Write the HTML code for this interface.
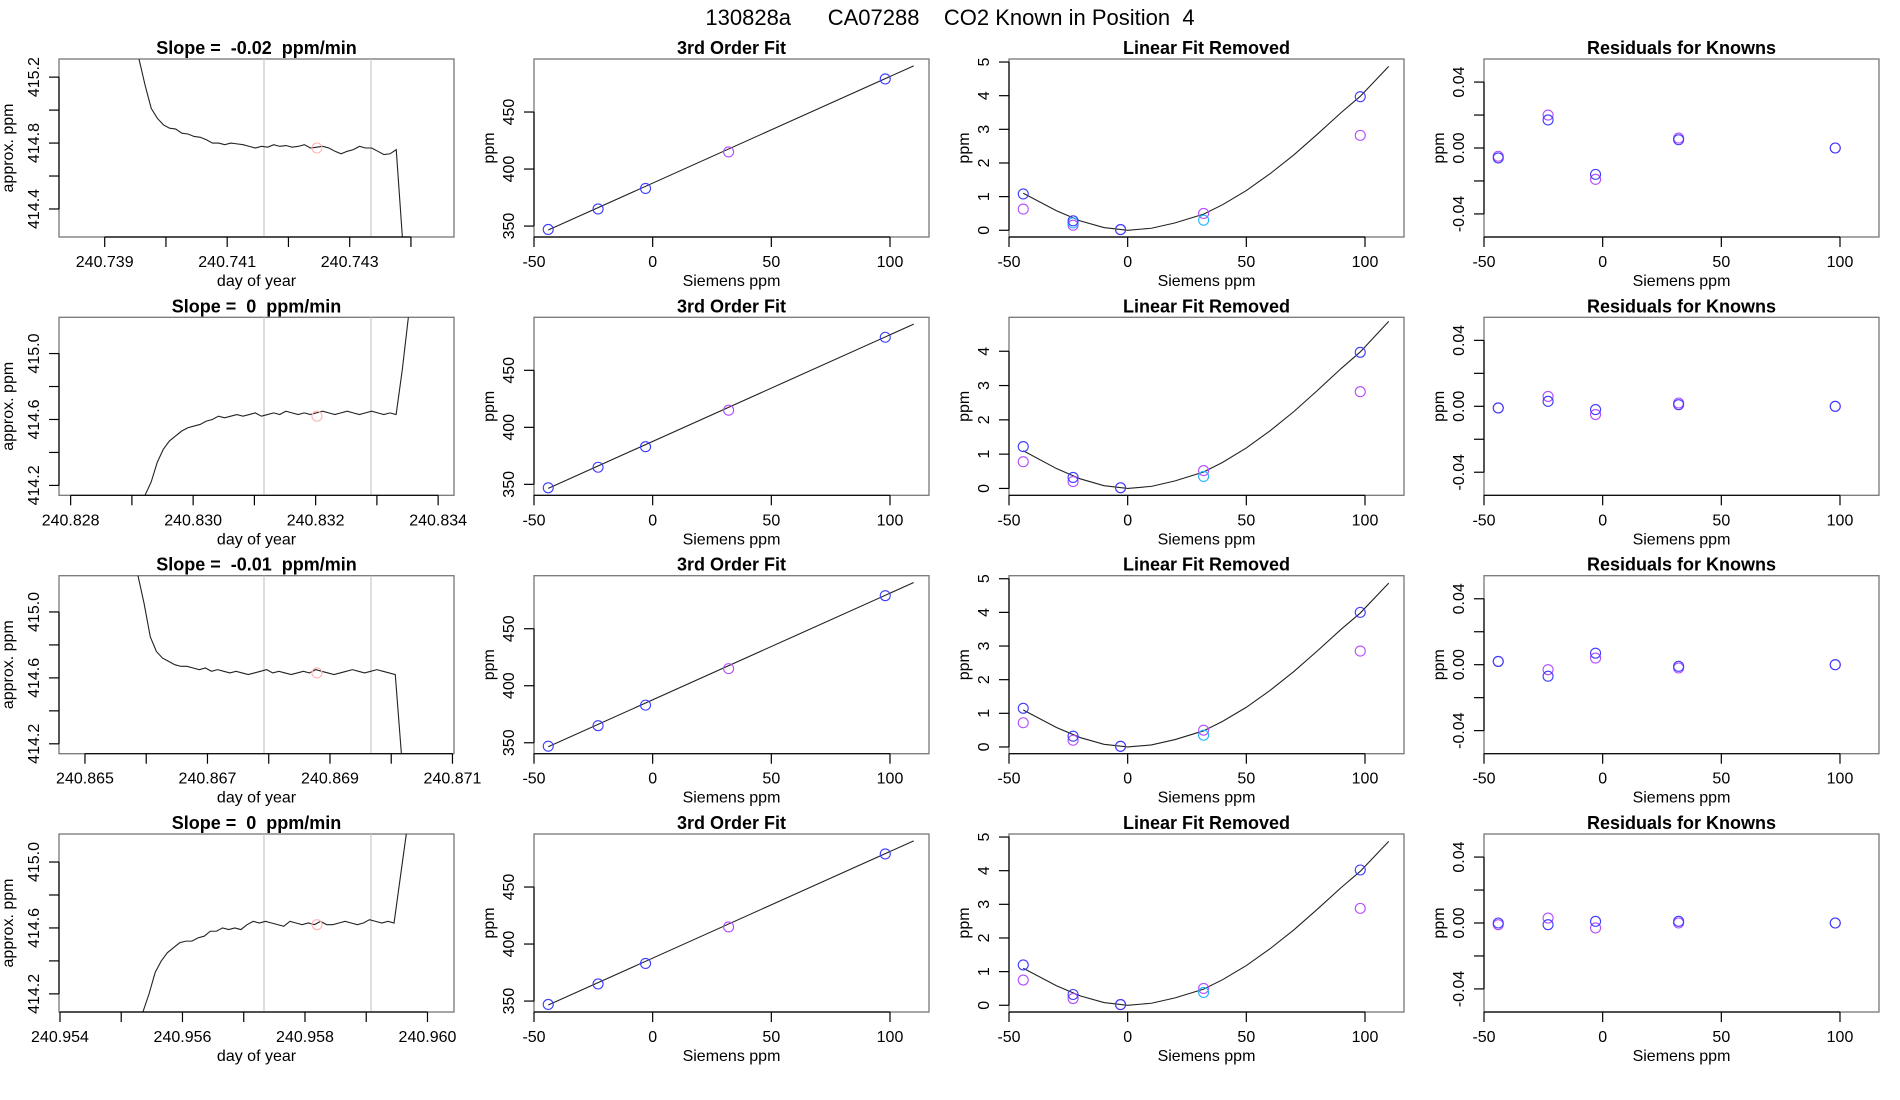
<!DOCTYPE html>
<html><head><meta charset="utf-8"><style>
html,body{margin:0;padding:0;background:#fff;}
svg{display:block;font-family:"Liberation Sans",sans-serif;}
text{white-space:pre;}
</style></head><body>
<svg id="fig" width="1900" height="1100" viewBox="0 0 1900 1100" xmlns="http://www.w3.org/2000/svg">
<text x="950" y="25" text-anchor="middle" font-size="22" xml:space="preserve">130828a      CA07288    CO2 Known in Position  4</text>
</svg>
<script>
// ---- column 1: time traces ----
const traceT0 = [240.739560, 240.829214, 240.865866, 240.955354];
const traceDt = 0.0001;
const trace1 = [415.40,415.15,415.01,414.95,414.91,414.89,414.885,414.86,414.855,414.84,414.835,414.82,414.80,414.80,414.79,414.80,414.795,414.79,414.78,414.77,414.78,414.775,414.79,414.78,414.785,414.775,414.78,414.79,414.77,414.775,414.78,414.77,414.75,414.735,414.75,414.76,414.78,414.77,414.77,414.75,414.73,414.735,414.76,413.8];
const trace2 = [414.05,414.22,414.34,414.42,414.47,414.50,414.53,414.55,414.56,414.57,414.59,414.60,414.62,414.61,414.62,414.63,414.62,414.63,414.64,414.62,414.63,414.64,414.63,414.65,414.64,414.63,414.64,414.63,414.64,414.65,414.64,414.63,414.64,414.65,414.64,414.63,414.64,414.65,414.64,414.63,414.64,414.63,414.90,415.6];
const trace3 = [415.35,415.05,414.85,414.76,414.72,414.70,414.68,414.67,414.67,414.66,414.65,414.66,414.64,414.65,414.64,414.63,414.64,414.63,414.62,414.63,414.64,414.65,414.63,414.64,414.63,414.62,414.63,414.64,414.63,414.65,414.64,414.63,414.62,414.63,414.64,414.65,414.64,414.63,414.64,414.65,414.64,414.63,414.62,413.9];
const trace4 = [414.00,414.20,414.33,414.40,414.45,414.48,414.51,414.52,414.52,414.54,414.55,414.58,414.58,414.60,414.59,414.60,414.59,414.62,414.64,414.63,414.64,414.63,414.62,414.61,414.64,414.63,414.62,414.63,414.62,414.64,414.62,414.62,414.63,414.64,414.63,414.62,414.63,414.65,414.64,414.63,414.64,414.63,414.9,415.6];
const traceSlopes = ["-0.02","0","-0.01","0"];
const vline1 = [240.741601, 240.831157, 240.867923, 240.957331];
const vline2 = [240.743348, 240.832904, 240.869670, 240.959078];
const markT = [240.742466, 240.832022, 240.868788, 240.958196];
const markV = [414.77, 414.62, 414.63, 414.62];
const timeXmin = [240.738254, 240.827810, 240.864576, 240.953984];
const timeYmin = [414.23, 414.14, 414.14, 414.09];
const timeYmax = [415.31, 415.22, 415.22, 415.17];
const timeTicks1 = [240.739,240.740,240.741,240.742,240.743,240.744];
const timeTicks2 = [240.828,240.829,240.830,240.831,240.832,240.833,240.834];
const timeTicks3 = [240.865,240.866,240.867,240.868,240.869,240.870,240.871];
const timeTicks4 = [240.954,240.955,240.956,240.957,240.958,240.959,240.960];
const timeLabels1 = ["240.739","","240.741","","240.743",""];
const timeLabels2 = ["240.828","","240.830","","240.832","","240.834"];
const timeLabels3 = ["240.865","","240.867","","240.869","","240.871"];
const timeLabels4 = ["240.954","","240.956","","240.958","","240.960"];
const ppmTicks1 = [414.4,414.6,414.8,415.0,415.2];
const ppmLabels1 = ["414.4","","414.8","","415.2"];
const ppmTicksB = [414.2,414.4,414.6,414.8,415.0];
const ppmLabelsB = ["414.2","","414.6","","415.0"];

// ---- shared siemens x values ----
const siemens = [-44, -23, -3, 32, 98];
const xTicks = [-50, 0, 50, 100];
const xTickLabels = ["-50","0","50","100"];

// ---- column 2: 3rd order fit ----
const fitBlue = [347, 365, 383, null, 479];
const fitViolet = [null, null, null, 415, null];
const fitLineX = [-44, 110];
const fitLineY = [346.5, 490.5];
const fitTicks = [350, 400, 450];

// ---- column 3: linear fit removed ----
const curveX = [-44,-30,-20,-10,0,10,20,32,40,50,60,70,80,90,98,110];
const curveY = [1.10,0.58,0.28,0.08,0.0,0.06,0.22,0.48,0.76,1.18,1.68,2.24,2.86,3.50,3.98,4.87];
const linBlue1 = [1.08,0.28,0.02,null,3.97];
const linViolet1 = [0.63,0.15,0.02,0.50,2.82];
const linCyan1 = [null,0.22,null,0.30,null];
const linBlue2 = [1.22,0.32,0.02,null,3.97];
const linViolet2 = [0.78,0.20,0.02,0.52,2.82];
const linCyan2 = [null,null,null,0.35,null];
const linBlue3 = [1.15,0.32,0.02,null,4.00];
const linViolet3 = [0.72,0.20,0.02,0.50,2.85];
const linCyan3 = [null,null,null,0.35,null];
const linBlue4 = [1.20,0.32,0.02,null,4.02];
const linViolet4 = [0.75,0.20,0.02,0.50,2.88];
const linCyan4 = [null,null,null,0.38,null];
const linYmax = [5.09, 4.99, 5.09, 5.09];
const linTicksA = [0,1,2,3,4,5];
const linTicksB = [0,1,2,3,4];

// ---- column 4: residuals ----
const resBlue1 = [-0.006,0.017,-0.016,0.005,0.0];
const resViolet1 = [-0.005,0.020,-0.019,0.006,0.0];
const resBlue2 = [-0.001,0.003,-0.002,0.001,0.0];
const resViolet2 = [-0.001,0.006,-0.005,0.002,0.0];
const resBlue3 = [0.002,-0.007,0.007,-0.001,0.0];
const resViolet3 = [0.002,-0.003,0.004,-0.002,0.0];
const resBlue4 = [0.0,-0.001,0.001,0.001,0.0];
const resViolet4 = [-0.001,0.003,-0.003,0.0,0.0];
const resTicks = [-0.04,-0.02,0,0.02,0.04];
const resLabels = ["-0.04","","0.00","","0.04"];

const NS = "http://www.w3.org/2000/svg";
const svg = document.getElementById("fig");
const colL = [59, 534, 1009, 1484];
const rowT = [59, 317.3, 575.7, 834];
const PW = 395, PH = 178;
const BLUE = "#3c3cff", VIOLET = "#b44cff", CYAN = "#22b4ff";

function mk(tag, attrs, parent) {
  const e = document.createElementNS(NS, tag);
  for (const k in attrs) e.setAttribute(k, attrs[k]);
  (parent || svg).appendChild(e);
  return e;
}
function txt(x, y, s, size, parent, extra) {
  const t = mk("text", Object.assign({x: x, y: y, "font-size": size, "text-anchor": "middle"}, extra || {}), parent);
  t.setAttributeNS("http://www.w3.org/XML/1998/namespace", "xml:space", "preserve");
  t.textContent = s;
  return t;
}

function panel(r, c, name, title, xmin, xmax, ymin, ymax) {
  const g = mk("g", {});
  
  
  const L = colL[c], T = rowT[r];
  const sx = v => L + (v - xmin) / (xmax - xmin) * PW;
  const sy = v => T + PH - (v - ymin) / (ymax - ymin) * PH;
  const t = txt(L + PW / 2, T - 5, title, 18, g, {"font-weight": "bold"});
  
  
  const box = mk("rect", {x: L, y: T, width: PW, height: PH, fill: "none", stroke: "#777", "stroke-width": 1.3}, g);
  
  
  return {g, L, T, sx, sy};
}
function xAxis(p, ticks, labels, title) {
  const y0 = p.T + PH;
  const ax = mk("g", {}, p.g);
  
  
  mk("line", {x1: p.sx(ticks[0]), x2: p.sx(ticks[ticks.length - 1]), y1: y0, y2: y0, stroke: "#000", "stroke-width": 1.2}, ax);
  ticks.forEach((v, i) => {
    const x = p.sx(v);
    mk("line", {x1: x, x2: x, y1: y0, y2: y0 + 10, stroke: "#000", "stroke-width": 1.2}, ax);
    if (labels[i]) {
      const lt = txt(x, y0 + 30, labels[i], 16, ax);
      
      
    }
  });
  const at = txt(p.L + PW / 2, y0 + 49, title, 16, ax);
  
  
}
function yAxis(p, ticks, labels, title, titleOff) {
  const x0 = p.L;
  const ax = mk("g", {}, p.g);
  
  
  mk("line", {x1: x0, x2: x0, y1: p.sy(ticks[0]), y2: p.sy(ticks[ticks.length - 1]), stroke: "#000", "stroke-width": 1.2}, ax);
  ticks.forEach((v, i) => {
    const y = p.sy(v);
    mk("line", {x1: x0, x2: x0 - 10, y1: y, y2: y, stroke: "#000", "stroke-width": 1.2}, ax);
    if (labels[i]) {
      const lt = txt(0, 0, labels[i], 16, ax, {transform: `translate(${x0 - 20},${y}) rotate(-90)`});
      
      
    }
  });
  const at = txt(0, 0, title, 16, ax, {transform: `translate(${x0 - titleOff},${p.T + PH / 2}) rotate(-90)`});
  
  
}
function circles(p, xs, ys, color, name) {
  xs.forEach((x, i) => {
    if (ys[i] === null) return;
    const c = mk("circle", {cx: p.sx(x), cy: p.sy(ys[i]), r: 5, fill: "none", stroke: color, "stroke-width": 1.1}, p.g);
    
    
  });
}
function polyline(p, xs, ys, color, name, clip) {
  const pts = xs.map((x, i) => {
    let y = p.sy(ys[i]);
    if (clip) y = Math.max(p.T, Math.min(p.T + PH, y));
    return p.sx(x).toFixed(2) + "," + y.toFixed(2);
  }).join(" ");
  const l = mk("polyline", {points: pts, fill: "none", stroke: color, "stroke-width": 1.1}, p.g);
  
  
}

const traces = [trace1, trace2, trace3, trace4];
const tTicks = [timeTicks1, timeTicks2, timeTicks3, timeTicks4];
const tLabels = [timeLabels1, timeLabels2, timeLabels3, timeLabels4];
const linB = [linBlue1, linBlue2, linBlue3, linBlue4];
const linV = [linViolet1, linViolet2, linViolet3, linViolet4];
const linC = [linCyan1, linCyan2, linCyan3, linCyan4];
const resB = [resBlue1, resBlue2, resBlue3, resBlue4];
const resV = [resViolet1, resViolet2, resViolet3, resViolet4];
const sxMax = -50 + PW / 2.3733;

for (let r = 0; r < 4; r++) {
  const xmin = timeXmin[r], xmax = xmin + PW / 61250;
  const p1 = panel(r, 0, "time-trace-panel-" + (r + 1), "Slope =  " + traceSlopes[r] + "  ppm/min", xmin, xmax, timeYmin[r], timeYmax[r]);
  [vline1[r], vline2[r]].forEach(v => {
    const l = mk("line", {x1: p1.sx(v), x2: p1.sx(v), y1: p1.T, y2: p1.T + PH, stroke: "#c8c8c8", "stroke-width": 1.2}, p1.g);
    
    
  });
  const tr = traces[r];
  const tx = tr.map((_, i) => traceT0[r] + i * traceDt);
  polyline(p1, tx, tr, "#222", "concentration-trace", true);
  circles(p1, [markT[r]], [markV[r]], "#ffb4b4", "mean-marker");
  xAxis(p1, tTicks[r], tLabels[r], "day of year");
  yAxis(p1, r === 0 ? ppmTicks1 : ppmTicksB, r === 0 ? ppmLabels1 : ppmLabelsB, "approx. ppm", 46);

  const p2 = panel(r, 1, "cubic-fit-panel-" + (r + 1), "3rd Order Fit", -50, sxMax, 340.4, 496.5);
  polyline(p2, fitLineX, fitLineY, "#222", "fit-line", false);
  circles(p2, siemens, fitBlue, BLUE, "known-point");
  circles(p2, siemens, fitViolet, VIOLET, "known-point-alt");
  xAxis(p2, xTicks, xTickLabels, "Siemens ppm");
  yAxis(p2, fitTicks, fitTicks.map(String), "ppm", 40);

  const p3 = panel(r, 2, "linear-removed-panel-" + (r + 1), "Linear Fit Removed", -50, sxMax, -0.2, linYmax[r]);
  polyline(p3, curveX, curveY, "#222", "curvature-line", false);
  circles(p3, siemens, linV[r], VIOLET, "residual-point-violet");
  circles(p3, siemens, linC[r], CYAN, "residual-point-cyan");
  circles(p3, siemens, linB[r], BLUE, "residual-point-blue");
  const lt = r === 1 ? linTicksB : linTicksA;
  xAxis(p3, xTicks, xTickLabels, "Siemens ppm");
  yAxis(p3, lt, lt.map(String), "ppm", 40);

  const p4 = panel(r, 3, "residuals-panel-" + (r + 1), "Residuals for Knowns", -50, sxMax, -0.054, 0.054);
  circles(p4, siemens, resV[r], VIOLET, "known-residual-violet");
  circles(p4, siemens, resB[r], BLUE, "known-residual-blue");
  xAxis(p4, xTicks, xTickLabels, "Siemens ppm");
  yAxis(p4, resTicks, resLabels, "ppm", 40);
}
</script>
</body></html>
